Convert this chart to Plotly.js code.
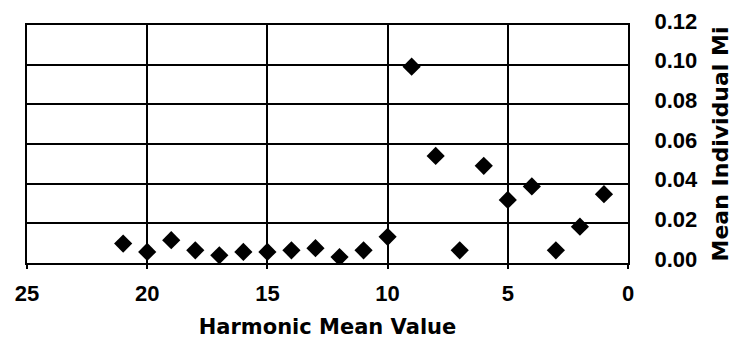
<!DOCTYPE html>
<html>
<head>
<meta charset="utf-8">
<script src="https://cdn.plot.ly/plotly-3.0.1.min.js"></script>
<style>html,body{margin:0;padding:0;background:#fff;}#chart{width:736px;height:340px;}</style>
</head>
<body>
<div id="chart"></div>
<script>
// Harmonic mean value (x) vs mean individual Mi (y)
var harmonicMean = [21, 20, 19, 18, 17, 16, 15, 14, 13, 12, 11, 10, 9, 8, 7, 6, 5, 4, 3, 2, 1];
var meanIndividualMi = [0.0098, 0.0056, 0.0115, 0.0064, 0.0039, 0.0056, 0.0056, 0.0064, 0.0075, 0.0030, 0.0064, 0.0132,
                        0.0990, 0.0540, 0.0064, 0.0490, 0.0318, 0.0386, 0.0064, 0.0183, 0.0347];
var xTickVals = [25, 20, 15, 10, 5, 0];
var yTickVals = [0, 0.02, 0.04, 0.06, 0.08, 0.10, 0.12];

var trace = {
  x: harmonicMean,
  y: meanIndividualMi,
  type: 'scatter',
  mode: 'markers',
  marker: {symbol: 'diamond', color: '#000', size: 14},
  hoverinfo: 'skip'
};

var tickFont = {family: 'Liberation Sans, Arial, sans-serif', size: 22, color: '#000', weight: 'bold'};
var xTitleFont = {family: 'DejaVu Sans, sans-serif', size: 21, color: '#000', weight: 'bold'};
var yTitleFont = {family: 'DejaVu Sans, sans-serif', size: 22, color: '#000', weight: 'bold'};

var layout = {
  width: 736, height: 340,
  margin: {l: 27, r: 108, t: 25, b: 77},
  paper_bgcolor: '#fff', plot_bgcolor: '#fff',
  showlegend: false,
  xaxis: {
    range: [25, 0],
    tickvals: xTickVals,
    ticktext: xTickVals.map(String),
    showgrid: true, gridcolor: '#000', gridwidth: 2,
    showline: true, linecolor: '#000', linewidth: 2, mirror: true,
    zeroline: false,
    ticks: 'outside', ticklen: 4, tickcolor: '#000', tickwidth: 2,
    ticklabelstandoff: 6,
    tickfont: tickFont,
    title: {text: 'Harmonic Mean Value', font: xTitleFont, standoff: 14}
  },
  yaxis: {
    side: 'right',
    range: [0, 0.12],
    tickvals: yTickVals,
    tickformat: '.2f',
    showgrid: true, gridcolor: '#000', gridwidth: 2,
    showline: true, linecolor: '#000', linewidth: 2, mirror: true,
    zeroline: false,
    ticks: '',
    ticklabelstandoff: 20,
    ticklabelshift: -4,
    tickfont: tickFont,
    title: {text: 'Mean Individual Mi', font: yTitleFont, standoff: 16}
  }
};

Plotly.newPlot('chart', [trace], layout, {displayModeBar: false, staticPlot: true});
</script>
</body>
</html>
